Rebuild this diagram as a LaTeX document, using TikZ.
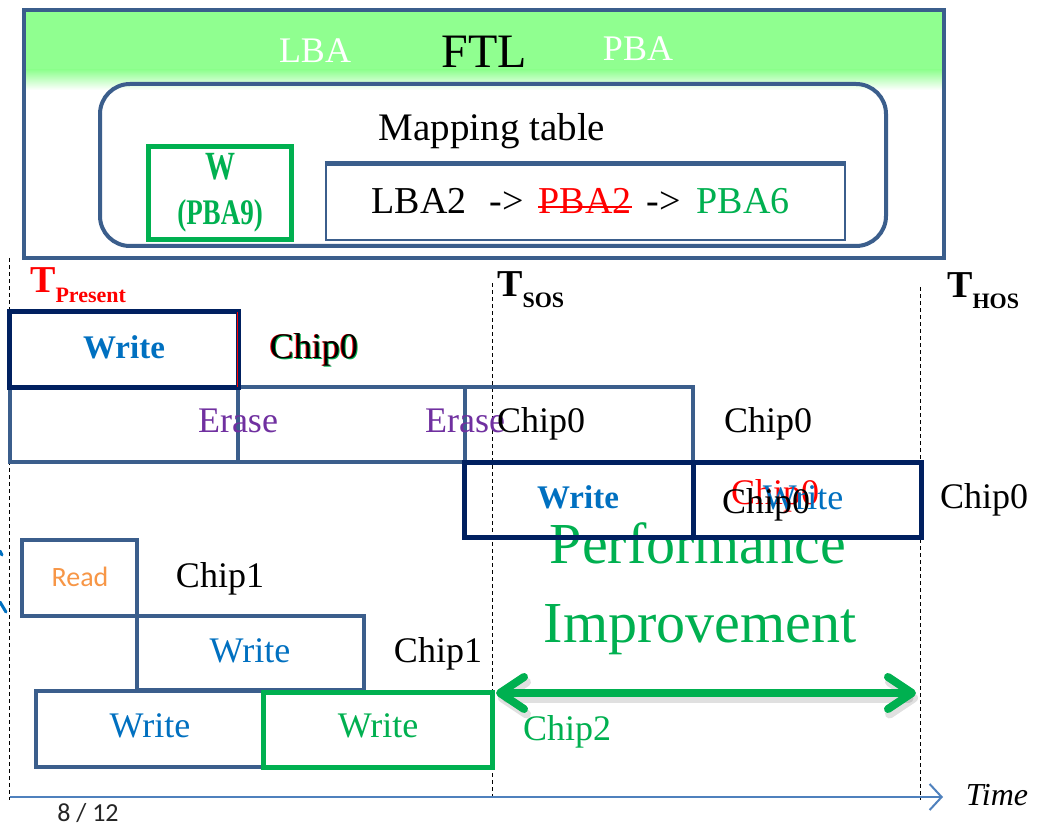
\documentclass[tikz,border=0pt]{standalone}
\usepackage{fontspec}
\setmainfont{Liberation Serif}
\newfontfamily\calfont{Carlito}
\usetikzlibrary{arrows.meta}
\newcommand\pxsize[1]{\fontsize{#1}{#1}\selectfont}
\definecolor{frameblue}{HTML}{3B5E8C}
\definecolor{navy}{HTML}{002060}
\definecolor{okgreen}{HTML}{00B050}
\definecolor{textblue}{HTML}{0070C0}
\definecolor{erasepurple}{HTML}{7030A0}
\definecolor{readorange}{HTML}{F79646}
\definecolor{axisblue}{HTML}{4F81BD}
\definecolor{bandgreen}{RGB}{144,255,144}
\tikzset{
  cell/.style={draw=#1, line width=4, inner sep=0, minimum width=227, minimum height=75},
  tline/.style={black, line width=1, dash pattern=on 4pt off 3pt},
  lbl/.style={inner sep=0, font=\pxsize{36}},
}
\begin{document}
\begin{tikzpicture}[x=1pt,y=-1pt]
\useasboundingbox (0,0) rectangle (1038,826);
\fill[white] (0,0) rectangle (1038,826);

% ---------- FTL block ----------
\fill[bandgreen] (26,12) rectangle (942,70);
\shade[top color=bandgreen,bottom color=white] (26,70) rectangle (942,90);
\node[draw=frameblue, line width=4, inner sep=0, minimum width=920, minimum height=248] (ftl) at (484,134) {};
\node[lbl, white] (lba) at (315,51) {LBA};
\node[lbl, font=\pxsize{48}] (ftltxt) at (484,52) {FTL};
\node[lbl, white] (pba) at (638,49) {PBA};

\node[draw=frameblue, line width=4, rounded corners=30, inner sep=0, minimum width=786, minimum height=162] (map) at (493,165) {};
\node[lbl, font=\pxsize{39}] (maptxt) at (492,131) {Mapping table};

\node[draw=okgreen, line width=5, inner sep=0, minimum width=143, minimum height=93] (wbox) at (219.5,193.5) {};
\node[lbl, okgreen, font=\pxsize{40}\bfseries] (wtxt) at (220,167) {\scalebox{0.75}[1]{W}};
\node[lbl, okgreen, font=\pxsize{36}\bfseries] (pba9) at (220,216) {\scalebox{0.75}[1]{(PBA9)}};

\node[draw=frameblue, line width=2.5, inner sep=0, minimum width=519, minimum height=75] (row) at (585.5,202.5) {};
\draw[frameblue, line width=5] (row.north west) -- (row.north east);
\node[lbl, anchor=base, font=\pxsize{38}] (lba2) at (419,214) {LBA2};
\node[lbl, anchor=base, font=\pxsize{38}] (ar1) at (507,214) {->};
\node[lbl, anchor=base, red, font=\pxsize{38}] (pba2) at (585,214) {PBA2};
\draw[red, line width=2.5] ([yshift=7pt]pba2.base west) -- ([yshift=7pt]pba2.base east);
\node[lbl, anchor=base, font=\pxsize{38}] (ar2) at (664,214) {->};
\node[lbl, anchor=base, okgreen, font=\pxsize{38}] (pba6) at (743,214) {PBA6};

% ---------- time markers ----------
\coordinate (d0a) at (9,258);   \coordinate (d0b) at (9,800);
\coordinate (d1a) at (492,283); \coordinate (d1b) at (492,800);
\coordinate (d2a) at (920,287); \coordinate (d2b) at (920,800);
\draw[tline] (d0a) -- (d0b);
\draw[tline] (d1a) -- (d1b);
\draw[tline] (d2a) -- (d2b);

\node[inner sep=0, anchor=base west, red, font=\bfseries] (tpres) at (30,292)
  {\pxsize{38}T\raisebox{-10pt}{\pxsize{22}Present}};
\node[inner sep=0, anchor=base west, font=\bfseries] (tsos) at (497,296)
  {\pxsize{38}T\raisebox{-11pt}{\pxsize{22}SOS}};
\node[inner sep=0, anchor=base west, font=\bfseries] (thos) at (947,297)
  {\pxsize{38}T\raisebox{-11pt}{\pxsize{22}HOS}};

% ---------- Chip0 ----------
\node[cell=frameblue, minimum width=228] (era) at (124,424.5) {};
\node[cell=frameblue] (erb) at (351.5,424.5) {};
\node[cell=frameblue, minimum width=228] (erc) at (579,424.5) {};
\node[cell=navy, line width=5, minimum width=229, minimum height=76] (w0) at (123.5,349) {};
\draw[red, line width=0.6] ([xshift=-3pt,yshift=-3pt]w0.north east) -- ([xshift=-3pt,yshift=3pt]w0.south east);

\node[lbl, textblue, font=\pxsize{33}\bfseries] (w0t) at (124,347) {Write};
\node[lbl, red] (c0r) at (313,350) {Chip0};
\node[lbl, okgreen] (c0g) at (315,350.5) {Chip0};
\node[lbl] (c0) at (314,350) {Chip0};

\node[lbl, erasepurple] (ea) at (238,421) {Erase};
\node[lbl, erasepurple] (eb) at (465,421) {Erase};
\node[lbl] (c0b) at (541,424) {Chip0};
\node[lbl] (c0c) at (768,424) {Chip0};

\node[lbl, okgreen, font=\pxsize{58}] (perf) at (698,543) {Performance};

\node[draw=red, line width=0.8, inner sep=0, minimum width=230, minimum height=77] (w1r) at (577,500) {};
\node[cell=navy, line width=5, minimum width=229, minimum height=75] (w1) at (578.5,500) {};
\node[cell=navy, line width=5, minimum width=228, minimum height=75] (w2) at (807,500) {};
\node[lbl, textblue, font=\pxsize{33}\bfseries] (w1t) at (578,497) {Write};
\node[lbl, red] (c0d) at (775,496) {Chip0};
\node[lbl, textblue] (w2t) at (803,498) {Write};
\node[lbl] (c0e) at (766,505) {Chip0};
\node[lbl] (c0f) at (984,500) {Chip0};

% ---------- Chip1 ----------
\node[cell=frameblue, minimum width=115, minimum height=76] (rd) at (79.5,578) {};
\node[cell=frameblue, minimum height=74] (w3) at (250.5,653) {};
\node[lbl, readorange, font=\calfont\pxsize{28}] (rdt) at (80,577) {Read};
\node[lbl] (c1a) at (220,579) {Chip1};
\node[lbl, textblue] (w3t) at (250,651) {Write};
\node[lbl] (c1b) at (438,654) {Chip1};

% ---------- Chip2 ----------
\node[cell=frameblue, minimum height=76] (w4) at (149.5,729) {};
\node[cell=okgreen, line width=5, minimum width=229] (w5) at (377.5,729.5) {};
\node[lbl, textblue] (w4t) at (150,726) {Write};
\node[lbl, okgreen] (w5t) at (378,726) {Write};
\node[lbl, okgreen] (c2) at (567,732) {Chip2};

\node[lbl, okgreen, font=\pxsize{58}] (impr) at (700,630) {Improvement};

% gain arrow with its soft shadow
\coordinate (ga) at (496,693);
\coordinate (gb) at (916,693);
\draw[black, opacity=0.12, line width=9, line cap=round,
      {Straight Barb[round,length=24pt,width=32pt]}-{Straight Barb[round,length=24pt,width=32pt]}]
  ([xshift=2pt,yshift=-5pt]ga) -- ([xshift=2pt,yshift=-5pt]gb);
\draw[okgreen, line width=8, line cap=round,
      {Straight Barb[round,length=24pt,width=32pt]}-{Straight Barb[round,length=24pt,width=32pt]}]
  (ga) -- (gb);

% time axis
\coordinate (ax0) at (10,797);
\coordinate (ax1) at (943,797);
\draw[axisblue, line width=2, -{Straight Barb[length=12pt,width=26pt]}] (ax0) -- (ax1);
\node[lbl, font=\pxsize{32}\itshape] (time) at (997,795) {Time};

\node[inner sep=0, font=\calfont\pxsize{26}, black!85] (page) at (88,813) {8 / 12};

% fragment at the left edge
\draw[textblue, line width=3, line cap=round] (0,551) -- (2,555);
\draw[textblue, line width=3, line cap=round] (0,602) -- (6,612);
\end{tikzpicture}
\end{document}
